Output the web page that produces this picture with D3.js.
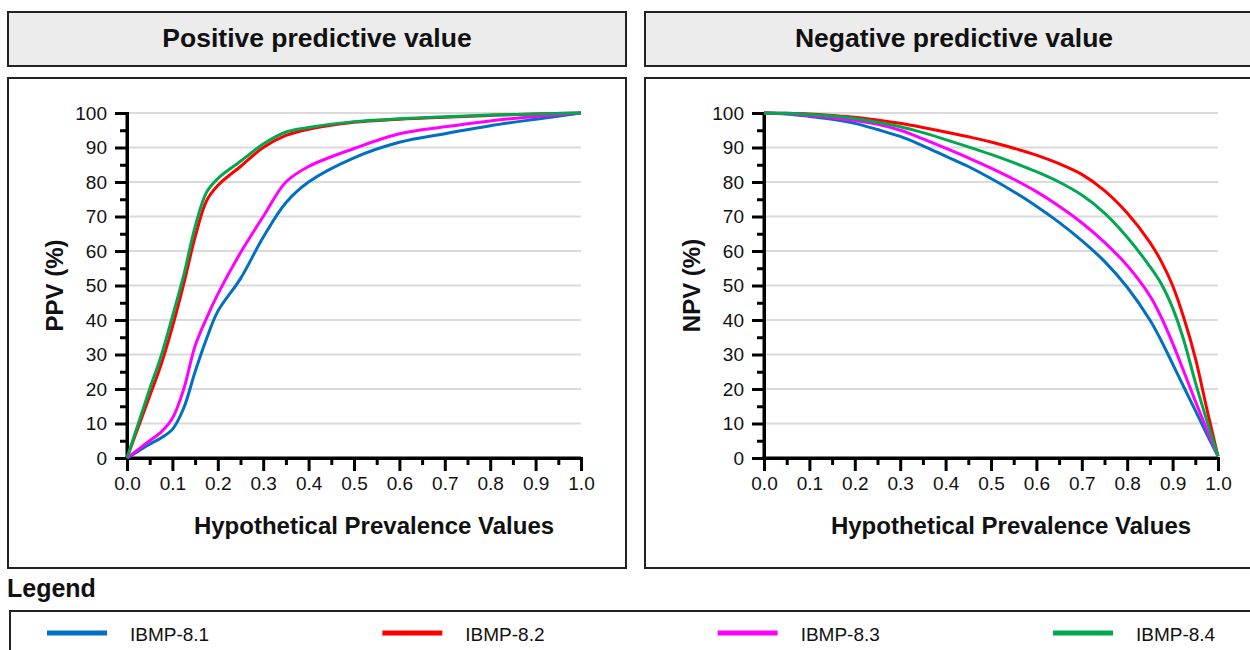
<!DOCTYPE html>
<html>
<head>
<meta charset="utf-8">
<script src="https://cdn.jsdelivr.net/npm/d3@7"></script>
<style>
  html, body { margin: 0; padding: 0; background: #fff; }
  svg { display: block; font-family: "Liberation Sans", Arial, sans-serif; }
</style>
</head>
<body>
<svg id="chart" width="1250" height="650"></svg>
<script>
// prevalence values used for sampling
const ppvX = [0, 0.025, 0.05, 0.075, 0.1, 0.125, 0.15, 0.175, 0.2, 0.25, 0.3, 0.35, 0.4, 0.5, 0.6, 0.7, 0.8, 0.9, 1.0]
const ppv81 = [0, 2, 4, 5.8, 8.3, 14.5, 25, 34.5, 42.5, 52, 64, 74, 80, 87, 91.5, 94, 96.3, 98.2, 100]
const ppv82 = [0, 9, 18, 27, 38, 50.5, 64, 74.5, 79, 84.5, 90, 93.5, 95.3, 97.3, 98.2, 98.8, 99.3, 99.7, 100]
const ppv83 = [0, 2.5, 5, 7.5, 11.5, 20, 32.5, 40.5, 47.5, 59.5, 70, 80, 84.5, 89.7, 94, 96, 97.7, 99, 100]
const ppv84 = [0, 10, 20, 29.5, 41, 53, 67, 77, 81, 86, 91, 94.5, 95.8, 97.5, 98.3, 98.9, 99.4, 99.7, 100]

const npvX = [0, 0.05, 0.1, 0.15, 0.2, 0.25, 0.3, 0.35, 0.4, 0.45, 0.5, 0.55, 0.6, 0.65, 0.7, 0.75, 0.8, 0.85, 0.875, 0.9, 0.925, 0.95, 0.975, 1.0]
const npv81 = [100, 99.7, 99, 98.2, 97, 95.2, 93.2, 90.5, 87.5, 84.5, 81, 77.2, 73, 68.3, 63, 57, 49.5, 40, 34, 27.3, 20.5, 13.8, 7, 0.5]
const npv82 = [100, 99.9, 99.7, 99.3, 98.8, 98, 97, 95.8, 94.5, 93.1, 91.6, 89.8, 87.8, 85.3, 82.2, 77.5, 71, 62.5, 57, 50, 40.5, 29, 14.5, 0.5]
const npv83 = [100, 99.8, 99.3, 98.6, 97.8, 96.7, 95, 92.5, 89.8, 87, 84, 80.8, 77.2, 73, 68.2, 62.5, 55.8, 47, 40.8, 33.3, 25, 16.5, 8.3, 0.5]
const npv84 = [100, 99.9, 99.6, 99.1, 98.4, 97.3, 96, 94.3, 92.3, 90.2, 88, 85.6, 83, 80, 76.2, 71, 64, 55.5, 50.5, 43.5, 34, 22, 11, 0.5]

const seriesNames = ['IBMP-8.1', 'IBMP-8.2', 'IBMP-8.3', 'IBMP-8.4']
const seriesColors = ['#0070c0', '#ff0000', '#ff00ff', '#00a84f']
const xTicks = [0, 0.1, 0.2, 0.3, 0.4, 0.5, 0.6, 0.7, 0.8, 0.9, 1.0]
const yTicks = [0, 10, 20, 30, 40, 50, 60, 70, 80, 90, 100]

const svg = d3.select('#chart')

const panels = [
  { left: 8, title: 'Positive predictive value', yLabel: 'PPV (%)', xs: ppvX, ys: [ppv81, ppv82, ppv83, ppv84] },
  { left: 645, title: 'Negative predictive value', yLabel: 'NPV (%)', xs: npvX, ys: [npv81, npv82, npv83, npv84] },
]

const PW = 618

panels.forEach(p => {
  const g = svg.append('g').attr('transform', `translate(${p.left},0)`)

  // header strip
  g.append('rect').attr('x', 0).attr('y', 12).attr('width', PW).attr('height', 54)
    .attr('fill', '#ececec').attr('stroke', '#222').attr('stroke-width', 2)
  g.append('text').attr('x', PW / 2).attr('y', 47).attr('text-anchor', 'middle')
    .attr('font-size', 26.5).attr('font-weight', 'bold').attr('fill', '#111')
    .text(p.title)

  // plot frame
  g.append('rect').attr('x', 0).attr('y', 78).attr('width', PW).attr('height', 490)
    .attr('fill', '#fff').attr('stroke', '#222').attr('stroke-width', 2)

  const x = d3.scaleLinear().domain([0, 1]).range([119, 573])
  const y = d3.scaleLinear().domain([0, 100]).range([458, 113])

  // grid
  g.append('g').selectAll('line').data(yTicks.filter(t => t > 0)).join('line')
    .attr('x1', x(0)).attr('x2', x(1))
    .attr('y1', d => y(d)).attr('y2', d => y(d))
    .attr('stroke', '#dadada').attr('stroke-width', 2)

  // minor ticks
  const yAxisMinor = d3.axisLeft(y).tickValues(d3.range(5, 100, 10)).tickSize(7).tickFormat('')
  const xAxisMinor = d3.axisBottom(x).tickValues(d3.range(0.05, 1, 0.1)).tickSize(7).tickFormat('')
  g.append('g').attr('transform', `translate(${x(0)},0)`).call(yAxisMinor)
  g.append('g').attr('transform', `translate(0,${y(0)})`).call(xAxisMinor)

  const yAxis = d3.axisLeft(y).tickValues(yTicks).tickSize(12).tickPadding(8)
  const xAxis = d3.axisBottom(x).tickValues(xTicks).tickSize(13).tickPadding(6).tickFormat(d3.format('.1f'))
  const ya = g.append('g').attr('transform', `translate(${x(0)},0)`).call(yAxis)
  const xa = g.append('g').attr('transform', `translate(0,${y(0)})`).call(xAxis)

  g.selectAll('.domain').attr('stroke', '#000').attr('stroke-width', 3)
  g.selectAll('.tick line').attr('stroke', '#000').attr('stroke-width', 3)
  g.selectAll('.tick text').attr('font-size', 19).attr('fill', '#111')
    .attr('font-family', '"Liberation Sans", Arial, sans-serif')
  ya.select('.domain').attr('d', `M0,${y(0) + 1.5}V${y(100)}`)
  xa.select('.domain').attr('d', `M${x(0) - 1.5},0H${x(1)}`)

  // curves
  const line = d3.line()
    .x((d, i) => x(p.xs[i]))
    .y(d => y(d))
    .curve(d3.curveCatmullRom.alpha(0.5))

  p.ys.forEach((vals, i) => {
    g.append('path').datum(vals)
      .attr('d', line)
      .attr('fill', 'none')
      .attr('stroke', seriesColors[i])
      .attr('stroke-width', 3)
      .attr('stroke-linejoin', 'round')
  })

  // axis titles
  g.append('text').attr('x', (x(0) + x(1)) / 2 + 20).attr('y', 534).attr('text-anchor', 'middle')
    .attr('font-size', 24).attr('font-weight', 'bold').attr('fill', '#111')
    .text('Hypothetical Prevalence Values')
  g.append('text').attr('transform', `translate(55,${(y(0) + y(100)) / 2}) rotate(-90)`)
    .attr('text-anchor', 'middle').attr('font-size', 24).attr('font-weight', 'bold').attr('fill', '#111')
    .text(p.yLabel)
})

// legend
svg.append('text').attr('x', 7).attr('y', 597)
  .attr('font-size', 25).attr('font-weight', 'bold').attr('fill', '#111').text('Legend')
svg.append('rect').attr('x', 10).attr('y', 611).attr('width', 1260).attr('height', 60)
  .attr('fill', '#fff').attr('stroke', '#222').attr('stroke-width', 2)

const legendX = d3.scalePoint().domain(seriesNames).range([47, 1053])
const item = svg.append('g').selectAll('g').data(seriesNames).join('g')
  .attr('transform', d => `translate(${legendX(d)},633)`)
item.append('line').attr('x1', 0).attr('x2', 60).attr('y1', 0).attr('y2', 0)
  .attr('stroke', (d, i) => seriesColors[i]).attr('stroke-width', 5)
item.append('text').attr('x', 83).attr('y', 8).attr('font-size', 19).attr('fill', '#111').text(d => d)
</script>
</body>
</html>
